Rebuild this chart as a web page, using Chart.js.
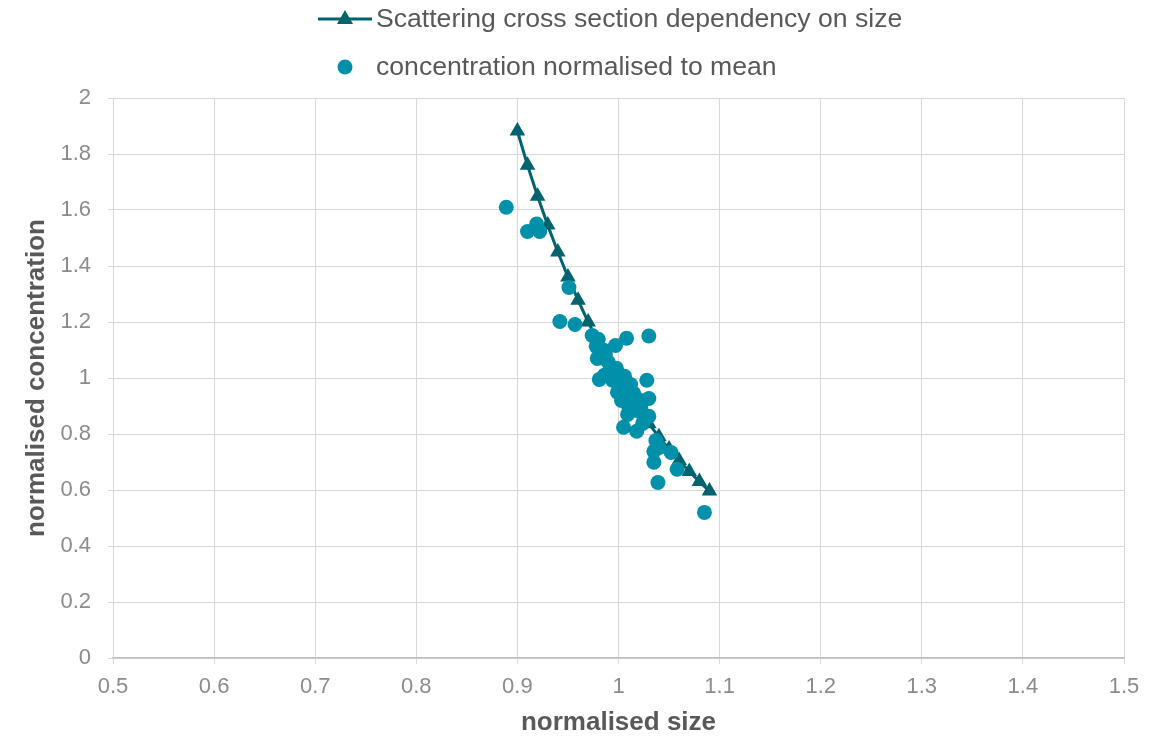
<!DOCTYPE html>
<html>
<head>
<meta charset="utf-8">
<script src="https://cdn.jsdelivr.net/npm/chart.js@4.4.1/dist/chart.umd.min.js"></script>
<style>
  html, body { margin: 0; padding: 0; background: #ffffff; }
  #wrap { position: relative; width: 1166px; height: 742px; }
</style>
</head>
<body>
<div id="wrap"><canvas id="chart"></canvas></div>
<script>
// Model curve: scattering cross section dependency on size
const modelSize = [0.90, 0.91, 0.92, 0.93, 0.94, 0.95, 0.96, 0.97, 0.98, 0.99,
                   1.00, 1.01, 1.02, 1.03, 1.04, 1.05, 1.06, 1.07, 1.08, 1.09];
const modelConc = [1.882, 1.760, 1.649, 1.546, 1.450, 1.361, 1.278, 1.200, 1.129, 1.062,
                   1.000, 0.942, 0.888, 0.837, 0.790, 0.746, 0.705, 0.666, 0.630, 0.596];

// Measured samples: concentration normalised to mean
const sampleSize = [0.889, 0.910, 0.919, 0.922, 0.951, 0.942, 0.957, 0.974, 0.980, 1.008,
                    1.030, 0.997, 0.978, 0.979, 0.987, 0.990, 0.981, 0.995, 0.998, 0.994,
                    1.000, 1.006, 1.009, 1.012, 0.999, 1.003, 1.007, 1.015, 1.019, 1.028,
                    1.030, 1.010, 1.017, 1.009, 1.024, 1.030, 1.005, 1.018, 1.024, 1.037,
                    1.040, 1.035, 1.035, 1.052, 1.058, 1.039, 1.085, 0.985, 0.992, 1.002,
                    1.013, 1.022, 0.986, 1.005];
const sampleConc = [1.610, 1.523, 1.550, 1.523, 1.323, 1.202, 1.191, 1.152, 1.138, 1.142,
                    1.150, 1.116, 1.113, 1.070, 1.084, 1.056, 0.995, 1.020, 1.035, 0.992,
                    0.977, 1.006, 0.963, 0.977, 0.949, 0.920, 0.931, 0.945, 0.924, 0.992,
                    0.927, 0.899, 0.885, 0.870, 0.870, 0.863, 0.824, 0.810, 0.838, 0.777,
                    0.752, 0.699, 0.738, 0.734, 0.674, 0.627, 0.520, 1.100, 1.040, 0.990,
                    0.905, 0.895, 1.010, 0.960];

// Axis ticks
const xTicks = [0.5, 0.6, 0.7, 0.8, 0.9, 1, 1.1, 1.2, 1.3, 1.4, 1.5];
const yTicks = [0, 0.2, 0.4, 0.6, 0.8, 1, 1.2, 1.4, 1.6, 1.8, 2];

const LINE_COLOR = '#00636E';
const DOT_COLOR = '#0090AA';
const FONT = '"Liberation Sans", Arial, sans-serif';

const modelPoints = modelSize.map((x, i) => ({ x, y: modelConc[i] }));
const samplePoints = sampleSize.map((x, i) => ({ x, y: sampleConc[i] }));

// Two-row legend drawn above the plot area
const stackedLegend = {
  id: 'stackedLegend',
  afterDraw(chart) {
    const ctx = chart.ctx;
    ctx.save();
    ctx.font = '26.6px ' + FONT;
    ctx.textBaseline = 'middle';
    ctx.textAlign = 'left';

    // row 1: line with triangle
    const y1 = 19;
    ctx.strokeStyle = LINE_COLOR;
    ctx.lineWidth = 3;
    ctx.beginPath();
    ctx.moveTo(318, y1);
    ctx.lineTo(372, y1);
    ctx.stroke();
    ctx.fillStyle = LINE_COLOR;
    ctx.beginPath();
    ctx.moveTo(345, y1 - 9);
    ctx.lineTo(353, y1 + 5);
    ctx.lineTo(337, y1 + 5);
    ctx.closePath();
    ctx.fill();
    ctx.fillStyle = '#595959';
    ctx.fillText(chart.data.datasets[1].label, 376, y1 + 1);

    // row 2: dot
    const y2 = 67;
    ctx.fillStyle = DOT_COLOR;
    ctx.beginPath();
    ctx.arc(345, y2, 7.5, 0, Math.PI * 2);
    ctx.fill();
    ctx.fillStyle = '#595959';
    ctx.fillText(chart.data.datasets[0].label, 376, y2 + 1);
    ctx.restore();
  }
};

new Chart(document.getElementById('chart'), {
  type: 'scatter',
  data: {
    datasets: [
      {
        label: 'concentration normalised to mean',
        data: samplePoints,
        order: 0,
        pointStyle: 'circle',
        pointRadius: 7.5,
        pointHoverRadius: 7.5,
        pointBackgroundColor: DOT_COLOR,
        pointBorderColor: DOT_COLOR,
        pointBorderWidth: 0,
        showLine: false
      },
      {
        label: 'Scattering cross section dependency on size',
        data: modelPoints,
        order: 1,
        showLine: true,
        borderColor: LINE_COLOR,
        borderWidth: 3,
        pointStyle: 'triangle',
        pointRadius: 9,
        pointHoverRadius: 9,
        pointBackgroundColor: LINE_COLOR,
        pointBorderColor: LINE_COLOR,
        pointBorderWidth: 0
      }
    ]
  },
  options: {
    responsive: true,
    maintainAspectRatio: false,
    animation: false,
    layout: { padding: { top: 98, right: 42, left: 0, bottom: 0 } },
    plugins: {
      legend: { display: false },
      tooltip: { enabled: false }
    },
    scales: {
      x: {
        type: 'linear',
        min: 0.5,
        max: 1.5,
        afterBuildTicks(scale) { scale.ticks = xTicks.map(v => ({ value: v })); },
        afterFit(scale) { scale.height = 84; },
        ticks: {
          color: '#8C8C8C',
          font: { family: FONT, size: 22 },
          padding: 10,
          maxRotation: 0,
          callback: v => String(v)
        },
        grid: { color: '#D9D9D9', lineWidth: 1, tickLength: 6, tickColor: '#D9D9D9' },
        border: { color: '#BFBFBF', width: 1.5 },
        title: {
          display: true,
          text: 'normalised size',
          color: '#595959',
          font: { family: FONT, size: 26, weight: 'bold' },
          padding: { top: 0, bottom: 4 }
        }
      },
      y: {
        type: 'linear',
        min: 0,
        max: 2,
        afterBuildTicks(scale) { scale.ticks = yTicks.map(v => ({ value: v })); },
        afterFit(scale) { scale.width = 113; },
        ticks: {
          color: '#8C8C8C',
          font: { family: FONT, size: 22 },
          padding: 17,
          callback: v => String(v)
        },
        grid: { color: '#D9D9D9', lineWidth: 1, tickLength: 5, tickColor: '#D9D9D9' },
        border: { color: '#D9D9D9', width: 1 },
        title: {
          display: true,
          text: 'normalised concentration',
          color: '#595959',
          font: { family: FONT, size: 26, weight: 'bold' },
          padding: { top: 21, bottom: 0 }
        }
      }
    }
  },
  plugins: [stackedLegend]
});
</script>
</body>
</html>
